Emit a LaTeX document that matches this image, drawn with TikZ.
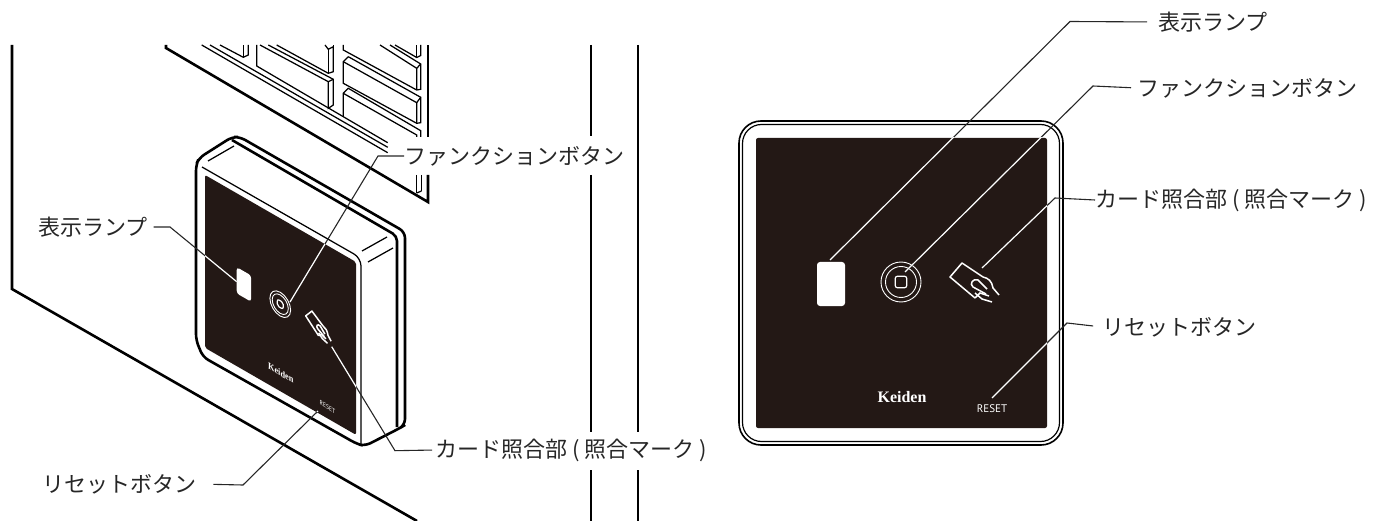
\documentclass[tikz,border=0pt]{standalone}
\usepackage{fontspec}
\newfontfamily\jpfont{Noto Sans CJK JP}
\newfontfamily\logofont{Liberation Serif}
\newfontfamily\resetfont{PT Sans}
\definecolor{panelblack}{HTML}{231815}
\tikzset{
  wall/.style={line width=2.6pt},
  slat/.style={line width=1.25pt},
  jplabel/.style={font=\jpfont\fontsize{22}{22}\selectfont,text=black!85,inner sep=0pt,anchor=west},
  leader/.style={line width=1.1pt,black!85},
  whiteline/.style={line width=1.2pt,white},
}
\newcommand{\facemarks}{
    \fill[panelblack,rounded corners=2pt] (0,0) rectangle (291,290);
    \fill[white,rounded corners=3pt] (61,124) rectangle (89,168);
    \draw[whiteline,line width=.9pt] (145,144) circle (20pt);
    \draw[whiteline,line width=.9pt] (145,144) circle (15.5pt);
    \draw[whiteline,rounded corners=2pt] (139.3,138.3) rectangle (150.7,149.7);
    \draw[whiteline,line width=1.5pt,line join=round] (227,139) -- (206,125) -- (194,139) -- (219,160);
    \draw[whiteline,line width=1.5pt] (227,139) .. controls (232,140) and (236,143) .. (237,150) -- (243,157);
    \draw[whiteline,line width=1.5pt] (230,156) -- (217,149) .. controls (213,146) and (217,140) .. (222,142) -- (231,151);
    \draw[whiteline,line width=1.5pt] (219,155) -- (226,161) -- (236,164);
    \draw[whiteline,line width=1.5pt] (219,160) -- (224,155) -- (233,158);
    \node[text=white,transform shape,inner sep=0pt,font=\logofont\bfseries\fontsize{16}{16}\selectfont] (logo) at (146,259) {Keiden};
    \node[text=white,transform shape,inner sep=0pt,font=\resetfont\fontsize{11}{11}\selectfont] (reset) at (236,271) {RESET};
}
\begin{document}
\begin{tikzpicture}[x=1pt,y=-1pt]
    \useasboundingbox (0,0) rectangle (1381,521);
    % wall and columns
    \draw[wall] (12,45) -- (12,289) -- (417,521);
    \draw[wall] (591,45) -- (591,136);
    \draw[wall] (591,175) -- (591,432);
    \draw[wall] (591,470) -- (591,521);
    \draw[wall] (638,45) -- (638,432);
    \draw[wall] (638,470) -- (638,521);
    % intercom panel behind
    \draw[wall] (166,45) -- (166,48) -- (428,202) -- (428,175);
    \draw[wall] (428,137) -- (428,45);
    \draw[slat] (201.7,45) -- (387.7,152.7);
    \draw[slat] (210,45) -- (387.7,147.3);
    \draw[slat] (220,45) -- (243.3,57.3) -- (248.3,55) -- (248.3,45);
    \draw[slat] (243.3,57.3) -- (243.3,45);
    \draw[slat] (256.7,45) -- (256.7,66) -- (387.7,142.7);
    \draw[slat] (260,45) -- (328.3,81.7) -- (328.3,108.3) -- (333.3,105) -- (333.3,79.3) -- (268.3,45);
    \draw[slat] (328.3,81.7) -- (333.3,79.3);
    \draw[slat] (276.7,45) -- (328.3,73.3) -- (333.3,71.7) -- (333.3,46.7) -- (328.3,49.3) -- (325,45);
    \draw[slat] (328.3,73.3) -- (328.3,49.3);
    \draw[slat] (333.3,46.7) -- (333.3,45);
    \draw[slat] (343.3,45) -- (343.3,50) -- (416.7,90) -- (420.7,89.3) -- (420.7,64) -- (390,45);
    \draw[slat] (380,45) -- (416.7,68.3) -- (416.7,90);
    \draw[slat] (416.7,68.3) -- (420.7,64);
    \draw[slat] (395,45) -- (416.7,57.5) -- (420.7,55.5) -- (420.7,45);
    \draw[slat] (416.7,57.5) -- (416.7,45);
    \draw[slat] (348.3,56.7) -- (420.7,97.3) -- (420.7,122.7) -- (416.7,123.3) -- (343.3,83.3) -- (343.3,61.7) -- (348.3,56.7);
    \draw[slat] (343.3,61.7) -- (416.7,102.7) -- (416.7,123.3);
    \draw[slat] (416.7,102.7) -- (420.7,97.3);
    \draw[slat] (343.3,116) -- (343.3,93.3) -- (348.3,88.3) -- (420.7,130.7) -- (420.7,137);
    \draw[slat] (343.3,93.3) -- (416.7,135) -- (416.7,137);
    \draw[slat] (416.7,175) -- (416.7,193);
    \draw[slat] (421.5,175) -- (421.5,191);
    \draw[slat] (416.7,193) -- (421.5,191);
    % reader seen from the side
    \draw[wall,fill=white,rounded corners=6pt] (196,340) -- (196,165) -- (199,158) -- (232,137) -- (240,137)
      -- (405,232) -- (405,425) -- (400,428) -- (365,446) -- (357,444) -- (203,357) -- cycle;
    \draw[wall,rounded corners=5pt] (232,140) -- (397,236) -- (397,427);
    \draw[slat,rounded corners=8pt] (202,167) -- (361,258) -- (361,444);
    \draw[slat] (208,161) -- (234,146);
    \draw[slat] (362,251) -- (387,237);
    \draw[slat] (368,262) -- (393,248);
    \begin{scope}[cm={.519,-.299,0,.596,(205,175)},name prefix=side-]
      \facemarks
    \end{scope}
    % reader seen from the front
    \draw[line width=1.6pt,rounded corners=22pt] (739,121) rectangle (1063,445);
    \draw[line width=1.2pt,rounded corners=19pt] (742.5,124.5) rectangle (1059.5,441.5);
    \begin{scope}[shift={(756,138)},name prefix=front-]
      \facemarks
    \end{scope}
    % labels
    \node[jplabel] (funcL) at (404,156) {ファンクションボタン};
    \node[jplabel] (lampL) at (38,227) {表示ランプ};
    \node[jplabel] (cardL) at (435,450) {カード照合部 ( 照合マーク )};
    \node[jplabel] (resetL) at (42,484) {リセットボタン};
    \node[jplabel] (lampR) at (1158,22) {表示ランプ};
    \node[jplabel] (funcR) at (1137,88) {ファンクションボタン};
    \node[jplabel] (cardR) at (1095,200) {カード照合部 ( 照合マーク )};
    \node[jplabel] (resetR) at (1102,327) {リセットボタン};
    \coordinate (f1) at (378,156);
    \coordinate (f2) at (290,302);
    \coordinate (l1) at (170,227);
    \coordinate (l2) at (236.7,281.7);
    \coordinate (c1) at (395,450.7);
    \coordinate (c2) at (331.7,346.7);
    \coordinate (r1) at (243,485);
    \coordinate (r2) at (318,411);
    \coordinate (a1) at (1070,21.5);
    \coordinate (a2) at (830,260);
    \coordinate (b1) at (1093,86);
    \coordinate (b2) at (905,272);
    \coordinate (d1) at (1055,198);
    \coordinate (d2) at (982,268);
    \coordinate (e1) at (1067,323);
    \coordinate (e2) at (992,398);
    \draw[leader] (funcL.west) -- (f1) -- (f2);
    \draw[leader,shorten <=6pt] (lampL.east) -- (l1) -- (l2);
    \draw[leader,shorten <=3pt] (cardL.west) -- (c1) -- (c2);
    \draw[leader,shorten <=17pt] (resetL.east) -- (r1) -- (r2);
    \draw[leader,shorten <=11pt] (lampR.west) -- (a1) -- (a2);
    \draw[leader,shorten <=6pt] (funcR.west) -- (b1) -- (b2);
    \draw[leader] (cardR.west) -- (d1) -- (d2);
    \draw[leader,shorten <=9pt] (resetR.west) -- (e1) -- (e2);
    % leaders turn white over the black faces
    \begin{scope}
      \clip (205,175) -- (356,262) -- (356,434) -- (205,348) -- cycle;
      \draw[whiteline] (f1) -- (f2);
      \draw[whiteline] (l1) -- (l2);
      \draw[whiteline] (c1) -- (c2);
      \draw[whiteline] (r1) -- (r2);
    \end{scope}
    \begin{scope}
      \clip (756,138) rectangle (1047,428);
      \draw[whiteline] (a1) -- (a2);
      \draw[whiteline] (b1) -- (b2);
      \draw[whiteline] (d1) -- (d2);
      \draw[whiteline] (e1) -- (e2);
    \end{scope}
\end{tikzpicture}
\end{document}
